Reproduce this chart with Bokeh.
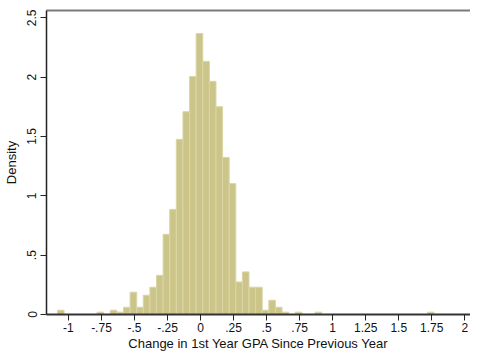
from bokeh.plotting import figure
from bokeh.models import FixedTicker, LinearAxis, Range1d, ColumnDataSource
from bokeh.embed import file_html
from bokeh.resources import INLINE

# Histogram data (density per bin)
bin_start = -1.0833
bin_width = 0.05
density = [
    0.036, 0, 0, 0, 0, 0, 0.02, 0, 0.036, 0.02,
    0.061, 0.188, 0.061, 0.162, 0.23, 0.33, 0.676, 0.886, 1.476, 1.709,
    2.006, 2.368, 2.133, 1.965, 1.751, 1.324, 1.103, 0.274, 0.359, 0.23,
    0.23, 0.036, 0.12, 0.061, 0.02, 0, 0.02, 0, 0, 0.02,
    0, 0, 0, 0, 0, 0, 0, 0, 0, 0,
    0, 0, 0, 0, 0, 0, 0.02,
]
x_ticks = [-1, -0.75, -0.5, -0.25, 0, 0.25, 0.5, 0.75, 1, 1.25, 1.5, 1.75, 2]
x_tick_labels = ["-1", "-.75", "-.5", "-.25", "0", ".25", ".5", ".75", "1", "1.25", "1.5", "1.75", "2"]
y_ticks = [0, 0.5, 1, 1.5, 2, 2.5]
y_tick_labels = ["0", ".5", "1", "1.5", "2", "2.5"]
x_title = "Change in 1st Year GPA Since Previous Year"
y_title = "Density"

centers = [bin_start + bin_width * (i + 0.5) for i in range(len(density))]
src = ColumnDataSource(dict(x=centers, top=density))

FONT = "Liberation Sans"

p = figure(width=470, height=353, output_backend="svg", toolbar_location=None,
           x_range=Range1d(-1.166, 2.043), y_range=Range1d(0, 2.562),
           min_border_left=38, min_border_right=0, min_border_top=10, min_border_bottom=35)
p.outline_line_color = None
p.grid.visible = False
p.background_fill_color = "white"
p.border_fill_color = "white"

p.vbar(x="x", top="top", width=bin_width, bottom=0, source=src,
       fill_color="#ccc589", line_color="#dad5a6", line_width=1)

xa = p.xaxis[0]
xa.ticker = FixedTicker(ticks=x_ticks)
xa.major_label_overrides = {t: l for t, l in zip(x_ticks, x_tick_labels)}
xa.minor_tick_line_color = None
xa.major_tick_in = 0
xa.major_tick_out = 6
xa.major_tick_line_color = "#222222"
xa.axis_line_color = "#333333"
xa.axis_line_width = 2
xa.major_label_text_font = FONT
xa.major_label_text_font_size = "12px"
xa.major_label_text_color = "#111111"
xa.major_label_standoff = 2
xa.axis_label = x_title
xa.axis_label_text_font = FONT
xa.axis_label_text_font_style = "normal"
xa.axis_label_text_font_size = "13px"
xa.axis_label_text_color = "#111111"
xa.axis_label_standoff = 1

ya = p.yaxis[0]
ya.ticker = FixedTicker(ticks=y_ticks)
ya.major_label_overrides = {t: l for t, l in zip(y_ticks, y_tick_labels)}
ya.minor_tick_line_color = None
ya.major_tick_in = 0
ya.major_tick_out = 6
ya.major_tick_line_color = "#222222"
ya.axis_line_color = "#222222"
ya.axis_line_width = 1.5
ya.major_label_orientation = "vertical"
ya.major_label_text_font = FONT
ya.major_label_text_font_size = "12px"
ya.major_label_text_color = "#111111"
ya.major_label_standoff = 4
ya.axis_label = y_title
ya.axis_label_text_font = FONT
ya.axis_label_text_font_style = "normal"
ya.axis_label_text_font_size = "13px"
ya.axis_label_text_color = "#111111"
ya.axis_label_standoff = 6

top_axis = LinearAxis(major_tick_line_color=None, minor_tick_line_color=None,
                      major_label_text_font_size="0px", axis_line_color="#7a7a7a",
                      axis_line_width=2, major_tick_out=0, major_tick_in=0)
top_axis.ticker = FixedTicker(ticks=[])
p.add_layout(top_axis, "above")

open("out.html", "w").write(file_html(p, INLINE))
